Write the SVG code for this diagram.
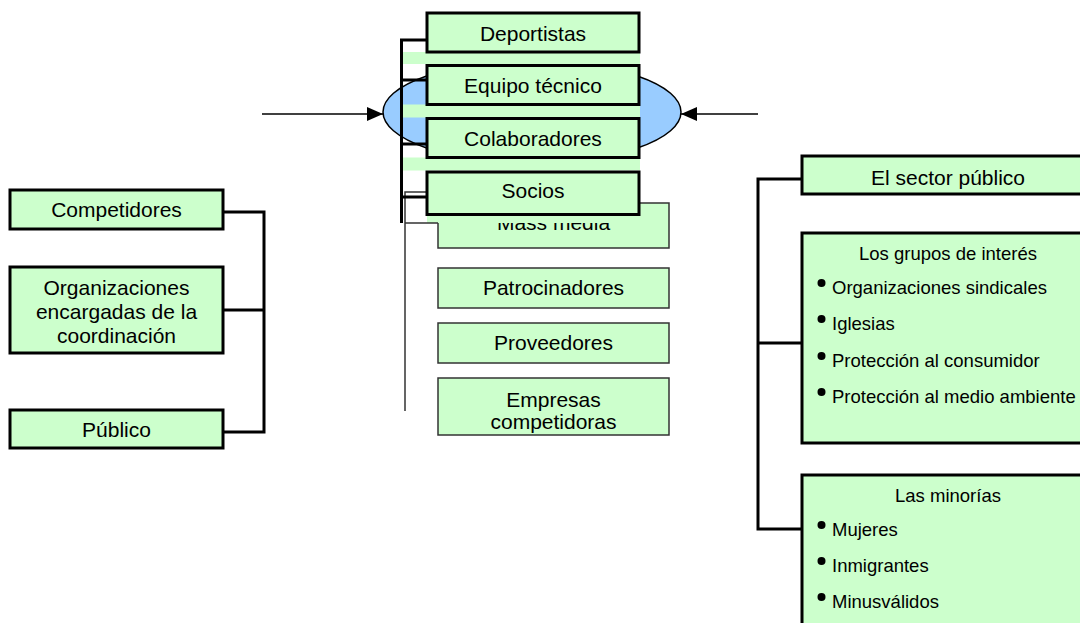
<svg xmlns="http://www.w3.org/2000/svg" width="1080" height="623" viewBox="0 0 1080 623">
<defs>
<style>
.box{fill:#ccffcc;stroke:#000;stroke-width:3}
.tbox{fill:#ccffcc;stroke:#333;stroke-width:1.5}
.strip{fill:#ccffcc;stroke:none}
.t{font-family:"Liberation Sans",Arial,sans-serif;font-size:21px;fill:#000;text-anchor:middle}
.s{font-family:"Liberation Sans",Arial,sans-serif;font-size:18.5px;fill:#000}
.sc{font-family:"Liberation Sans",Arial,sans-serif;font-size:18.5px;fill:#000;text-anchor:middle}
.con{fill:none;stroke:#000;stroke-width:3}
.thin{fill:none;stroke:#333;stroke-width:1.5}
.arr{fill:none;stroke:#000;stroke-width:1.5}
</style>
<marker id="ah" markerWidth="16" markerHeight="14" refX="16" refY="7" orient="auto" markerUnits="userSpaceOnUse">
<path d="M0,0 L16,7 L0,14 Z" fill="#000"/>
</marker>
</defs>
<rect width="1080" height="623" fill="#fff"/>

<g id="center-ellipse">
<ellipse cx="532" cy="112" rx="149" ry="51" fill="#99ccff" stroke="#000" stroke-width="1.5"/>
</g>

<g id="strips">
<rect class="strip" x="402" y="52" width="238" height="12"/>
<rect class="strip" x="402" y="104.5" width="238" height="13"/>
<rect class="strip" x="402" y="157.5" width="238" height="13"/>
</g>

<g id="lower-middle">
<g id="n-mass"><rect class="tbox" x="438" y="203" width="231" height="45"/><text class="t" x="553.5" y="230">Mass media</text></g>
<g id="n-patro"><rect class="tbox" x="438" y="268" width="231" height="40"/><text class="t" x="553.5" y="295">Patrocinadores</text></g>
<g id="n-prov"><rect class="tbox" x="438" y="323" width="231" height="40"/><text class="t" x="553.5" y="350">Proveedores</text></g>
<g id="n-emp"><rect class="tbox" x="438" y="378" width="231" height="57"/><text class="t" x="553.5" y="407">Empresas</text><text class="t" x="553.5" y="429">competidoras</text></g>
</g>

<g id="strip-over">
<rect class="strip" x="427" y="212" width="213" height="11"/>
</g>

<g id="connectors">
<line class="arr" x1="262" y1="114" x2="383" y2="114" marker-end="url(#ah)"/>
<line class="arr" x1="758" y1="114" x2="681" y2="114" marker-end="url(#ah)"/>
<path class="thin" d="M427,192 H405 V411 M405,223 H438"/>
<path class="con" d="M428,40 H401.5 V223 M401.5,80 H428 M401.5,144 H428 M401.5,197 H428"/>
<path class="con" d="M223,212 H264 V432 H223 M223,310 H264"/>
<path class="con" d="M802,179 H758 V529 H802 M758,343 H802"/>
</g>

<g id="n-deportistas"><rect class="box" x="427" y="13" width="212" height="39"/><text class="t" x="533" y="40.5">Deportistas</text></g>
<g id="n-equipo"><rect class="box" x="427" y="65.5" width="212" height="39"/><text class="t" x="533" y="92.5">Equipo técnico</text></g>
<g id="n-colab"><rect class="box" x="427" y="118.5" width="212" height="39"/><text class="t" x="533" y="145.5">Colaboradores</text></g>
<g id="n-socios"><rect class="box" x="427" y="172" width="212" height="42.5"/><text class="t" x="533" y="198">Socios</text></g>

<g id="n-competidores"><rect class="box" x="10" y="190" width="213" height="39"/><text class="t" x="116.5" y="217">Competidores</text></g>
<g id="n-organizaciones"><rect class="box" x="10" y="267" width="213" height="86"/><text class="t" x="116.5" y="295">Organizaciones</text><text class="t" x="116.5" y="319">encargadas de la</text><text class="t" x="116.5" y="343">coordinación</text></g>
<g id="n-publico"><rect class="box" x="10" y="410" width="213" height="38"/><text class="t" x="116.5" y="437">Público</text></g>

<g id="n-sector"><rect class="box" x="802" y="156" width="292" height="38"/><text class="t" x="948" y="185">El sector público</text></g>
<g id="n-grupos"><rect class="box" x="802" y="233" width="292" height="210"/>
<text class="sc" x="948" y="260">Los grupos de interés</text>
<circle cx="821.5" cy="283" r="4"/><text class="s" x="832" y="294">Organizaciones sindicales</text>
<circle cx="821.5" cy="319" r="4"/><text class="s" x="832" y="330">Iglesias</text>
<circle cx="821.5" cy="356" r="4"/><text class="s" x="832" y="367">Protección al consumidor</text>
<circle cx="821.5" cy="392" r="4"/><text class="s" x="832" y="403">Protección al medio ambiente</text>
</g>
<g id="n-minorias"><rect class="box" x="802" y="475" width="292" height="170"/>
<text class="sc" x="948" y="502">Las minorías</text>
<circle cx="821.5" cy="525" r="4"/><text class="s" x="832" y="536">Mujeres</text>
<circle cx="821.5" cy="561" r="4"/><text class="s" x="832" y="572">Inmigrantes</text>
<circle cx="821.5" cy="597" r="4"/><text class="s" x="832" y="608">Minusválidos</text>
</g>
</svg>
